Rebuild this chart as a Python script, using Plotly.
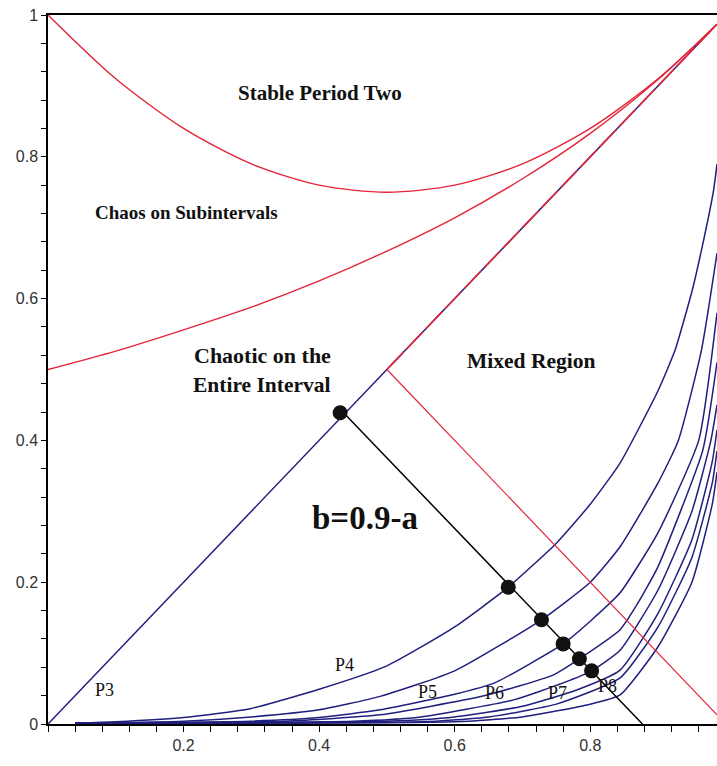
import plotly.graph_objects as go

# ---------------- data ----------------
# red boundary curves
red_top_a = [0.0, 0.1, 0.2, 0.3, 0.4, 0.5, 0.6, 0.7, 0.8, 0.9, 0.987]
red_top_b = [1.0, 0.91, 0.84, 0.79, 0.76, 0.75, 0.76, 0.79, 0.84, 0.91, 0.987]

red_low_a = [0.0, 0.1, 0.2, 0.3, 0.4, 0.5, 0.6, 0.7, 0.8, 0.9, 0.987]
red_low_b = [0.5, 0.526, 0.556, 0.588, 0.625, 0.667, 0.714, 0.769, 0.833, 0.909, 0.987]

red_diag_a = [0.5, 0.987]
red_diag_b = [0.5, 0.987]

red_mixed_a = [0.5, 0.987]
red_mixed_b = [0.5, 0.013]

# blue period curves
p3_a = [0.0, 0.987]
p3_b = [0.0, 0.987]

p4_a = [0.04, 0.1, 0.2, 0.3, 0.4, 0.5, 0.6, 0.679, 0.75, 0.8, 0.844, 0.9, 0.925, 0.95, 0.964, 0.982, 0.987]
p4_b = [0.001, 0.003, 0.009, 0.022, 0.049, 0.082, 0.137, 0.193, 0.255, 0.31, 0.368, 0.47, 0.527, 0.61, 0.668, 0.753, 0.79]

p5_a = [0.04, 0.2, 0.3, 0.4, 0.49, 0.6, 0.728, 0.8, 0.844, 0.9, 0.93, 0.964, 0.987]
p5_b = [0.001, 0.004, 0.010, 0.02, 0.039, 0.075, 0.147, 0.2, 0.25, 0.34, 0.40, 0.527, 0.664]

p6_a = [0.04, 0.3, 0.4, 0.49, 0.6, 0.659, 0.76, 0.8, 0.844, 0.9, 0.96, 0.987]
p6_b = [0.001, 0.004, 0.009, 0.02, 0.042, 0.058, 0.113, 0.145, 0.185, 0.27, 0.40, 0.58]

p7_a = [0.04, 0.35, 0.49, 0.64, 0.745, 0.784, 0.844, 0.87, 0.9, 0.966, 0.987]
p7_b = [0.001, 0.004, 0.013, 0.039, 0.069, 0.092, 0.133, 0.17, 0.222, 0.386, 0.51]

p8_a = [0.04, 0.45, 0.55, 0.687, 0.76, 0.802, 0.844, 0.9, 0.95, 0.978, 0.987]
p8_b = [0.001, 0.004, 0.01, 0.034, 0.058, 0.075, 0.104, 0.189, 0.3, 0.40, 0.45]

p9_a = [0.04, 0.5, 0.6, 0.7, 0.78, 0.844, 0.9, 0.95, 0.98, 0.987]
p9_b = [0.001, 0.004, 0.01, 0.025, 0.048, 0.076, 0.156, 0.26, 0.37, 0.415]

p10_a = [0.04, 0.55, 0.65, 0.75, 0.844, 0.9, 0.95, 0.98, 0.987]
p10_b = [0.001, 0.003, 0.01, 0.028, 0.065, 0.137, 0.235, 0.34, 0.385]

p11_a = [0.04, 0.6, 0.7, 0.8, 0.844, 0.9, 0.95, 0.98, 0.987]
p11_b = [0.001, 0.003, 0.01, 0.028, 0.041, 0.109, 0.2, 0.31, 0.355]

# line b = 0.9 - a and its intersection points
cut_a = [0.435, 0.877]
cut_b = [0.44, 0.0]
dot_a = [0.431, 0.679, 0.728, 0.760, 0.784, 0.802]
dot_b = [0.439, 0.193, 0.147, 0.113, 0.092, 0.075]

# tick labels
x_tickvals = [0.2, 0.4, 0.6, 0.8]
x_ticktext = ["0.2", "0.4", "0.6", "0.8"]
y_tickvals = [0, 0.2, 0.4, 0.6, 0.8, 1.0]
y_ticktext = ["0", "0.2", "0.4", "0.6", "0.8", "1"]

# region / curve labels  (text, a, b, font size)
region_labels = [
    ("Stable Period Two", 0.401, 0.890, 21),
    ("Chaos on Subintervals", 0.204, 0.721, 19),
    ("Chaotic on the", 0.316, 0.520, 22),
    ("Entire Interval", 0.316, 0.478, 21.5),
    ("Mixed Region", 0.712, 0.512, 21.5),
    ("b=0.9-a", 0.468, 0.291, 33),
]
curve_labels = [
    ("P3", 0.084, 0.048),
    ("P4", 0.438, 0.083),
    ("P5", 0.560, 0.045),
    ("P6", 0.659, 0.044),
    ("P7", 0.751, 0.044),
    ("P8", 0.826, 0.054),
]

# ---------------- figure ----------------
BLUE = "#1f1f7e"
RED = "#e3243a"

fig = go.Figure()

blue_curves = [(p3_a, p3_b), (p4_a, p4_b), (p5_a, p5_b), (p6_a, p6_b), (p7_a, p7_b),
               (p8_a, p8_b), (p9_a, p9_b), (p10_a, p10_b), (p11_a, p11_b)]
for xa, yb in blue_curves:
    fig.add_trace(go.Scatter(x=xa, y=yb, mode="lines",
                             line=dict(color=BLUE, width=1.5, shape="spline", smoothing=0.5),
                             hoverinfo="skip"))

for xa, yb in [(red_top_a, red_top_b), (red_low_a, red_low_b)]:
    fig.add_trace(go.Scatter(x=xa, y=yb, mode="lines",
                             line=dict(color=RED, width=1.4, shape="spline", smoothing=0.8),
                             hoverinfo="skip"))
fig.add_trace(go.Scatter(x=red_diag_a, y=red_diag_b, mode="lines",
                         line=dict(color=RED, width=1.6, dash="24px,4px"), hoverinfo="skip"))
fig.add_trace(go.Scatter(x=red_mixed_a, y=red_mixed_b, mode="lines",
                         line=dict(color=RED, width=1.2), hoverinfo="skip"))

fig.add_trace(go.Scatter(x=cut_a, y=cut_b, mode="lines", line=dict(color="black", width=1.5),
                         hoverinfo="skip", cliponaxis=False))
fig.add_trace(go.Scatter(x=dot_a, y=dot_b, mode="markers", marker=dict(color="#111111", size=15),
                         hoverinfo="skip", cliponaxis=False))

annotations = []
for txt, xa, yb, fs in region_labels:
    annotations.append(dict(x=xa, y=yb, text="<b>" + txt + "</b>", showarrow=False,
                            font=dict(family="Liberation Serif", size=fs, color="#111111"),
                            xanchor="center", yanchor="middle"))
for txt, xa, yb in curve_labels:
    annotations.append(dict(x=xa, y=yb, text=txt, showarrow=False,
                            font=dict(family="Liberation Serif", size=18, color="#111111"),
                            xanchor="center", yanchor="middle"))
# axis titles
annotations.append(dict(x=0.499, y=-0.052, text="a", showarrow=False,
                        font=dict(family="Liberation Serif", size=14, color="#222222"),
                        xanchor="center", yanchor="middle"))
annotations.append(dict(x=-0.049, y=0.498, text="b", showarrow=False,
                        font=dict(family="Liberation Sans", size=15, color="#222222"),
                        xanchor="center", yanchor="middle"))

fig.update_layout(
    width=717, height=766,
    margin=dict(l=48, r=0, t=15, b=42, autoexpand=False),
    paper_bgcolor="white", plot_bgcolor="white",
    showlegend=False,
    annotations=annotations,
    font=dict(family="Liberation Sans", size=16, color="#333333"),
)
fig.update_xaxes(range=[0, 0.987], showgrid=False, zeroline=False, automargin=False,
                 showline=True, linecolor="black", linewidth=1.5, mirror=True,
                 ticks="outside", ticklen=6, tickwidth=1.3, tickcolor="black",
                 tickvals=x_tickvals, ticktext=x_ticktext,
                 minor=dict(ticks="outside", dtick=0.04, tick0=0, ticklen=6, tickwidth=1.3, tickcolor="black"))
fig.update_yaxes(range=[0, 1], showgrid=False, zeroline=False, automargin=False,
                 showline=True, linecolor="black", linewidth=1.5,
                 ticks="outside", ticklen=5, tickwidth=1.3, tickcolor="black",
                 tickvals=y_tickvals, ticktext=y_ticktext,
                 minor=dict(ticks="outside", dtick=0.04, tick0=0, ticklen=5, tickwidth=1.3, tickcolor="black"))

# remove the browser's default page margin so the figure sits at the window's corner
fig.write_html("out.html",
               config={"displayModeBar": False},
               post_script="document.body.style.margin='0';document.body.style.padding='0';")
